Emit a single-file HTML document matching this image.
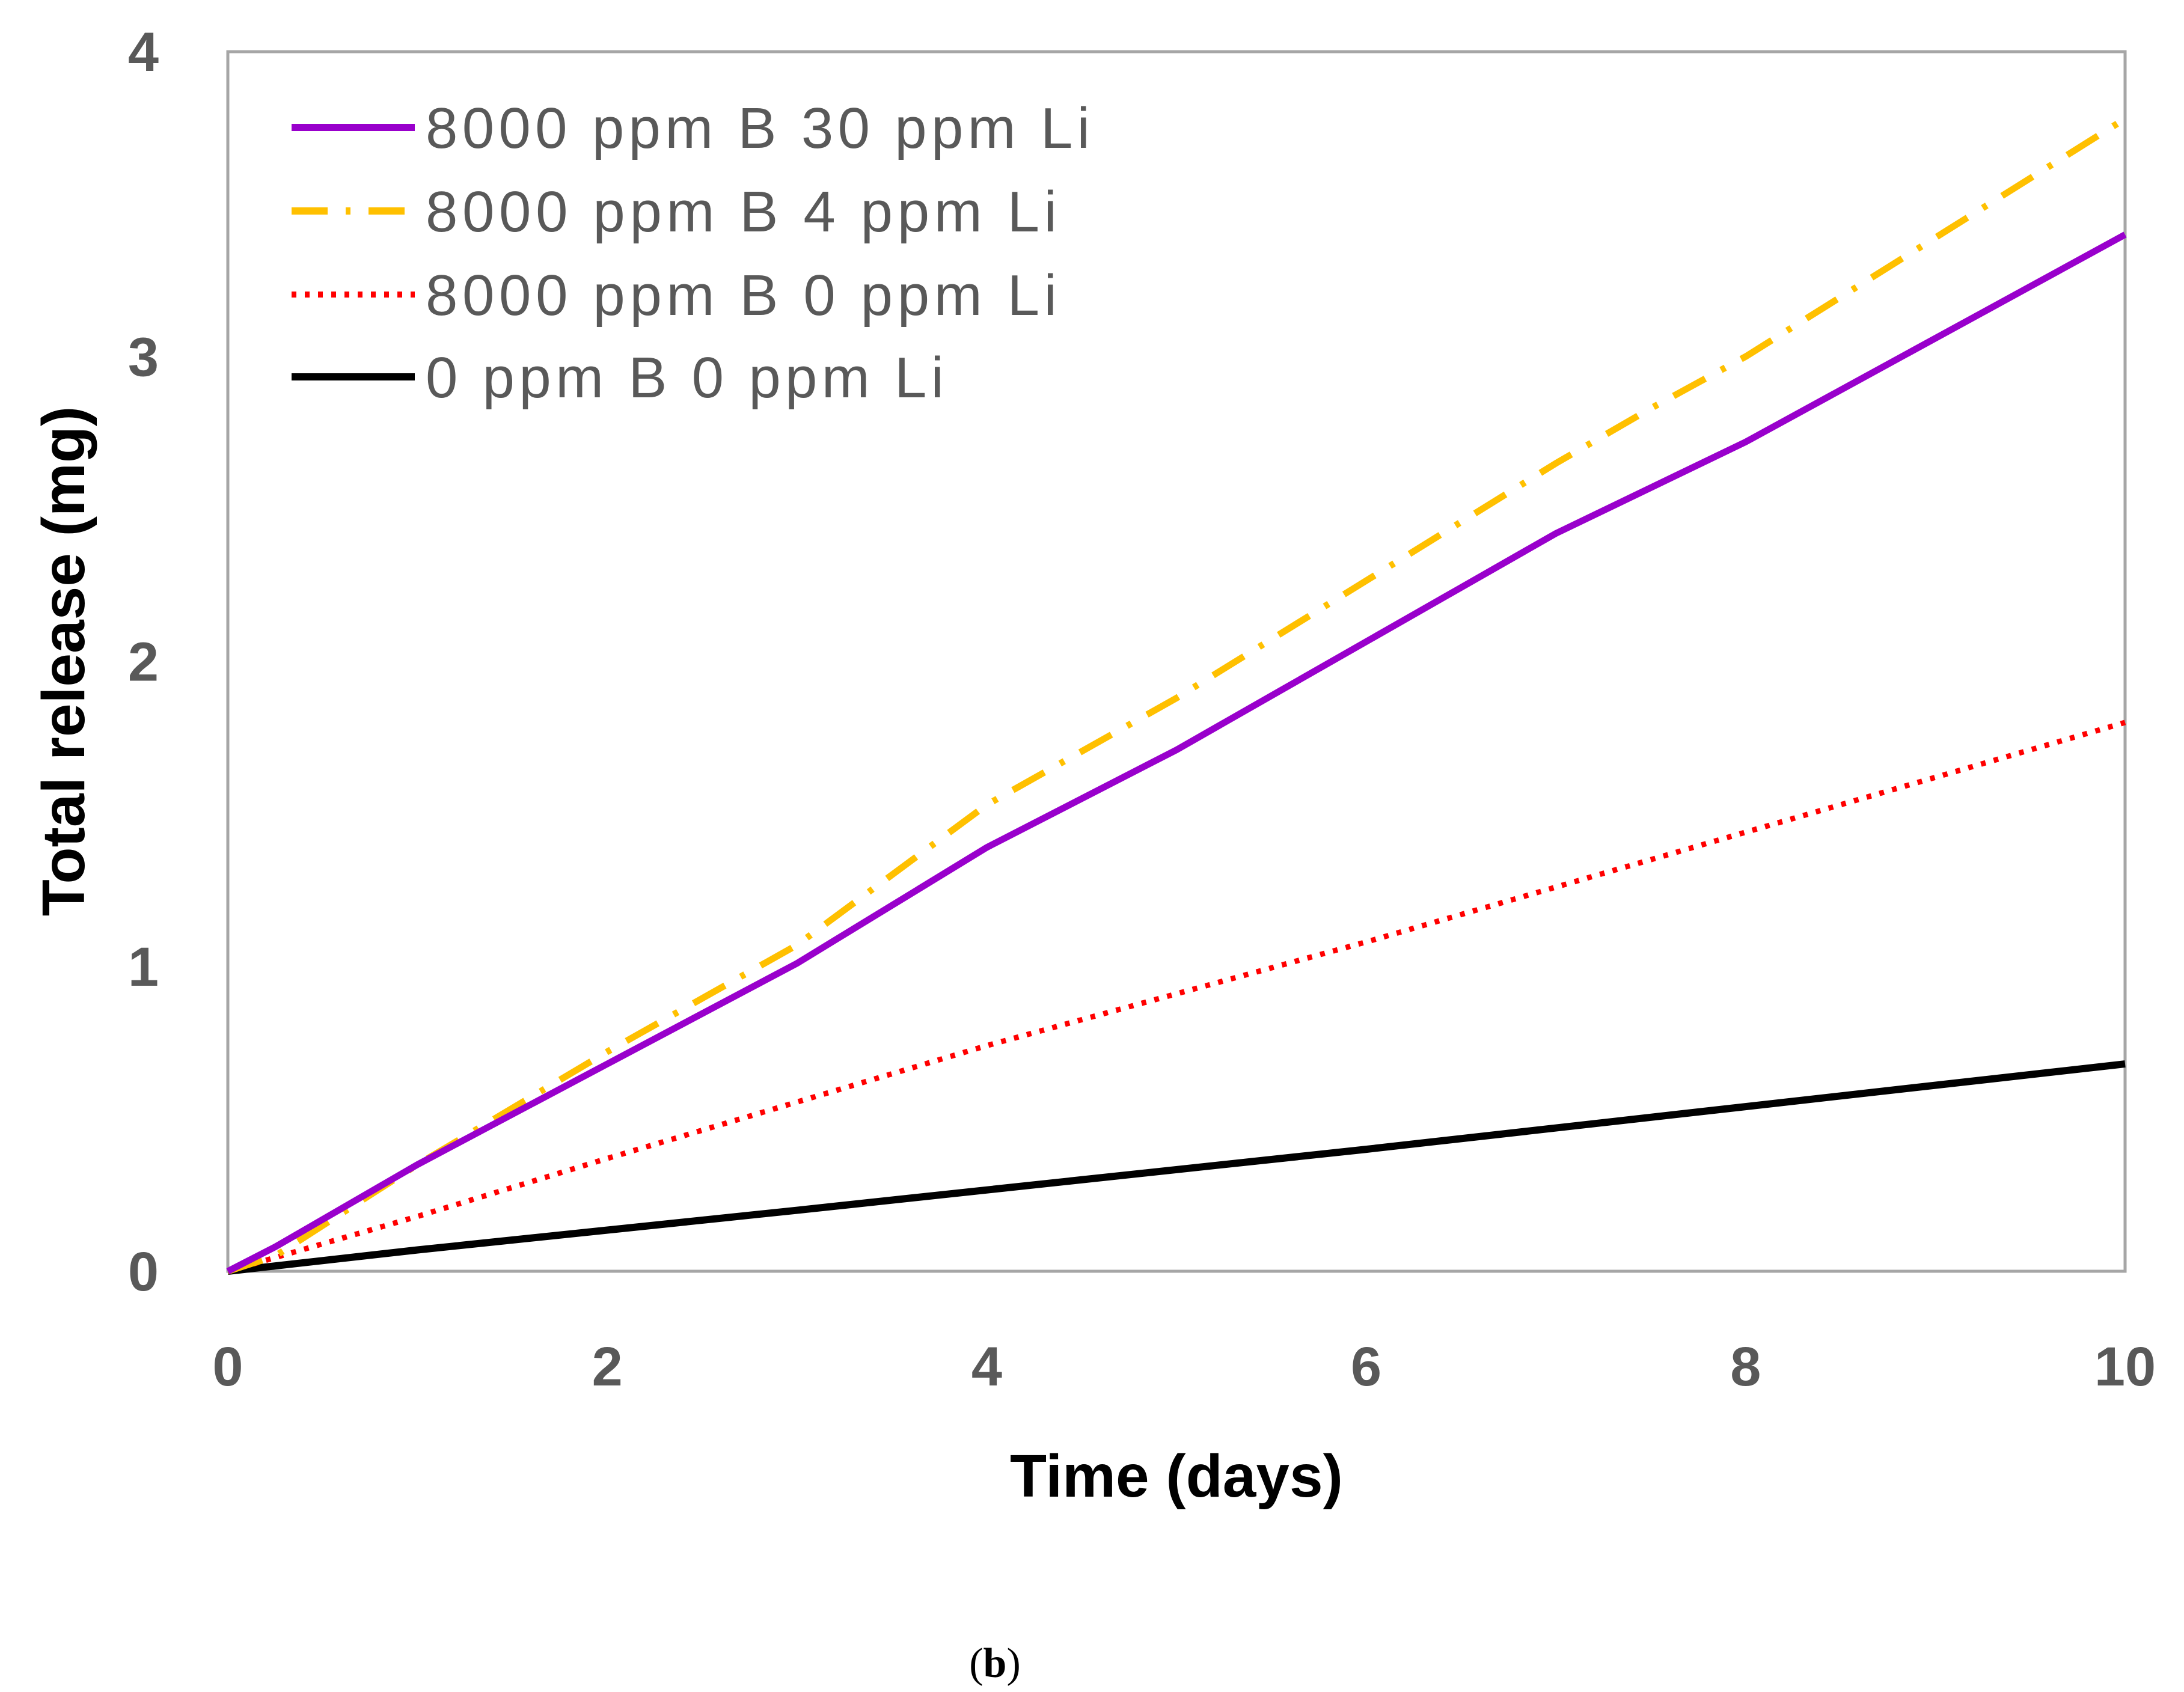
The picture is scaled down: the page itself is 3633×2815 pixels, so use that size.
<!DOCTYPE html>
<html><head><meta charset="utf-8"><style>
html,body{margin:0;padding:0;background:#fff;}
svg{display:block;}
</style></head><body>
<svg id="chart" width="3633" height="2815" viewBox="0 0 3633 2815" xmlns="http://www.w3.org/2000/svg" font-family="'Liberation Sans', 'DejaVu Sans', sans-serif">
<rect x="379" y="86" width="3156" height="2029" fill="#fff" stroke="#a6a6a6" stroke-width="5"/>
<g id="series"></g>
<g id="yticks"></g>
<g id="xticks"></g>
<text x="1957" y="2490" text-anchor="middle" font-size="100" font-weight="bold" fill="#000">Time (days)</text>
<text transform="translate(140,1100) rotate(-90)" text-anchor="middle" font-size="100" font-weight="bold" fill="#000">Total release (mg)</text>
<text x="1655" y="2790" text-anchor="middle" font-size="70" font-family="'Liberation Serif', serif" fill="#000">(<tspan font-weight="bold">b</tspan>)</text>
<g font-size="96" fill="#595959">
 <g><line x1="485" y1="212" x2="690" y2="212" stroke="#9900CC" stroke-width="12"/><text x="708" y="246" textLength="1105" lengthAdjust="spacing">8000 ppm B 30 ppm Li</text></g>
 <g><line x1="485" y1="351" x2="690" y2="351" stroke="#FFC000" stroke-width="12" stroke-dasharray="60,30,8,30"/><text x="708" y="385" textLength="1050" lengthAdjust="spacing">8000 ppm B 4 ppm Li</text></g>
 <g><line x1="485" y1="490" x2="690" y2="490" stroke="#FF0000" stroke-width="10" stroke-dasharray="8,14"/><text x="708" y="524" textLength="1050" lengthAdjust="spacing">8000 ppm B 0 ppm Li</text></g>
 <g><line x1="485" y1="627" x2="690" y2="627" stroke="#000" stroke-width="12"/><text x="708" y="661" textLength="862" lengthAdjust="spacing">0 ppm B 0 ppm Li</text></g>
</g>
</svg>
<script>
const xTicks=[0,2,4,6,8,10];
const yTicks=[0,1,2,3,4];
const xPurple=[0,0.25,1,2,3,4,5,7,8,10];
const yPurple=[0,0.08,0.35,0.68,1.01,1.39,1.71,2.42,2.72,3.40];
const xYellow=[0,0.25,1,2,3,4,5,7,7.5,8,10];
const yYellow=[0,0.05,0.35,0.72,1.07,1.53,1.88,2.65,2.83,3.0,3.78];
const xRed=[0,1,2,4,6,8,10];
const yRed=[0,0.18,0.37,0.74,1.08,1.44,1.80];
const xBlack=[0,1,3,6,10];
const yBlack=[0,0.07,0.2,0.4,0.68];
const X0=379,X1=3535,Y0=2115,Y1=86;
function sx(v){return X0+(v-0)/(10-0)*(X1-X0);}
function sy(v){return Y0-(v-0)/(4-0)*(Y0-Y1);}
const NS="http://www.w3.org/2000/svg";
const series=document.getElementById('series');
function addLine(xs,ys,color,w,dash,name){
 const p=document.createElementNS(NS,'polyline');
 p.setAttribute('points',xs.map((x,i)=>sx(x)+','+sy(ys[i])).join(' '));
 p.setAttribute('fill','none');p.setAttribute('stroke',color);p.setAttribute('stroke-width',w);
 if(dash)p.setAttribute('stroke-dasharray',dash);
 
 
 series.appendChild(p);
}
addLine(xBlack,yBlack,'#000',12,null,'line-0b-0li');
addLine(xRed,yRed,'#FF0000',9,'8,14','line-8000b-0li');
addLine(xYellow,yYellow,'#FFC000',11,'60,30,8,30','line-8000b-4li');
addLine(xPurple,yPurple,'#9900CC',11,null,'line-8000b-30li');
const yt=document.getElementById('yticks');
yTicks.forEach(v=>{const t=document.createElementNS(NS,'text');t.setAttribute('x',264);t.setAttribute('y',sy(v)+32);t.setAttribute('text-anchor','end');t.setAttribute('font-size','92');t.setAttribute('font-weight','bold');t.setAttribute('fill','#595959');t.textContent=v;


yt.appendChild(t);});
const xt=document.getElementById('xticks');
xTicks.forEach(v=>{const t=document.createElementNS(NS,'text');t.setAttribute('x',sx(v));t.setAttribute('y',2305);t.setAttribute('text-anchor','middle');t.setAttribute('font-size','92');t.setAttribute('font-weight','bold');t.setAttribute('fill','#595959');t.textContent=v;


xt.appendChild(t);});
</script>
</body></html>
